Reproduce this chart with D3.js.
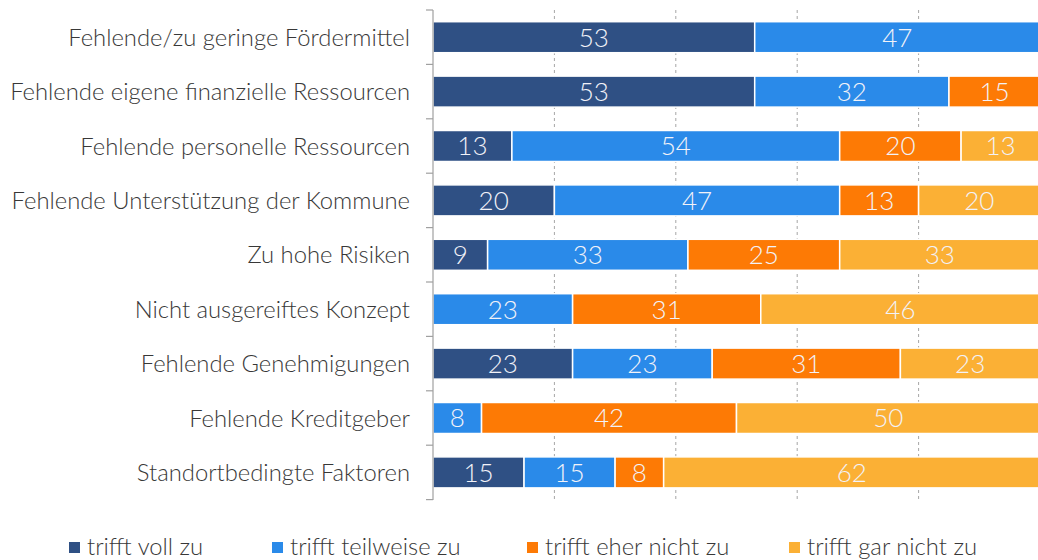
<!DOCTYPE html>
<html>
<head>
<meta charset="utf-8">
<script src="https://cdn.jsdelivr.net/npm/d3@7"></script>
<style>
  html, body { margin: 0; padding: 0; background: #fff; }
  svg { display: block; font-family: Lato, "Open Sans", sans-serif; }
</style>
</head>
<body>
<svg id="chart" width="1038" height="560"></svg>
<script>
const categories = [
  "Fehlende/zu geringe Fördermittel",
  "Fehlende eigene finanzielle Ressourcen",
  "Fehlende personelle Ressourcen",
  "Fehlende Unterstützung der Kommune",
  "Zu hohe Risiken",
  "Nicht ausgereiftes Konzept",
  "Fehlende Genehmigungen",
  "Fehlende Kreditgeber",
  "Standortbedingte Faktoren"
];
const seriesNames = ["trifft voll zu", "trifft teilweise zu", "trifft eher nicht zu", "trifft gar nicht zu"];
const triffVoll      = [53, 53, 13, 20,  9,  0, 23,  0, 15];
const triffTeilweise = [47, 32, 54, 47, 33, 23, 23,  8, 15];
const triffEherNicht = [ 0, 15, 20, 13, 25, 31, 31, 42,  8];
const triffGarNicht  = [ 0,  0, 13, 20, 33, 46, 23, 50, 62];
const colors = ["#2f5084", "#2a8ae9", "#fd7a05", "#fbb035"];
const gridTicks = [20, 40, 60, 80];

const seriesValues = [triffVoll, triffTeilweise, triffEherNicht, triffGarNicht];
const rows = categories.map((c, i) => {
  const r = { category: c };
  seriesNames.forEach((s, k) => { r[s] = seriesValues[k][i]; });
  return r;
});

const svg = d3.select("#chart");
const x = d3.scaleLinear().domain([0, 100]).range([433, 1040]);
const y = d3.scaleBand().domain(categories).range([10, 499.6]).paddingInner(0.43).paddingOuter(0.215);

// dashed vertical gridlines
svg.append("g").selectAll("line").data(gridTicks).join("line")
  .attr("x1", d => x(d)).attr("x2", d => x(d))
  .attr("y1", 10).attr("y2", 500)
  .attr("stroke", "#a6a6a6").attr("stroke-width", 1)
  .attr("stroke-dasharray", "3,3");

const stack = d3.stack().keys(seriesNames)(rows);

const layers = svg.append("g").selectAll("g").data(stack).join("g")
  .attr("fill", (d, i) => colors[i]);

layers.selectAll("rect").data(d => d.filter(p => p[1] - p[0] > 0)).join("rect")
  .attr("x", d => x(d[0]))
  .attr("y", d => y(d.data.category))
  .attr("width", d => x(d[1]) - x(d[0]))
  .attr("height", y.bandwidth())
  .attr("stroke", "#fff").attr("stroke-width", 1.5);

layers.selectAll("text").data(d => d.filter(p => p[1] - p[0] > 0)).join("text")
  .attr("x", d => (x(d[0]) + x(Math.min(d[1], 100))) / 2)
  .attr("y", d => y(d.data.category) + y.bandwidth() / 2)
  .attr("dy", "0.36em")
  .attr("text-anchor", "middle")
  .attr("fill", "#f2f2f8")
  .attr("font-size", 26)
  .attr("font-weight", 300)
  .text(d => d[1] - d[0]);

// category axis
const axis = svg.append("g");
axis.append("line")
  .attr("x1", 433).attr("x2", 433).attr("y1", 10).attr("y2", 500)
  .attr("stroke", "#a0a0a0").attr("stroke-width", 1.2);
const bounds = d3.range(categories.length + 1).map(i => 10 + i * y.step());
axis.selectAll("line.tick").data(bounds).join("line")
  .attr("class", "tick")
  .attr("x1", 426).attr("x2", 433)
  .attr("y1", d => d).attr("y2", d => d)
  .attr("stroke", "#a0a0a0").attr("stroke-width", 1.2);
axis.selectAll("text").data(categories).join("text")
  .attr("x", 410)
  .attr("y", d => y(d) + y.bandwidth() / 2)
  .attr("dy", "0.36em")
  .attr("text-anchor", "end")
  .attr("fill", "#383838")
  .attr("font-size", 23.8)
  .attr("font-weight", 300)
  .text(d => d);

// legend
const legendX = [69, 272, 527, 789];
const legend = svg.append("g").selectAll("g").data(seriesNames).join("g")
  .attr("transform", (d, i) => `translate(${legendX[i]},0)`);
legend.append("rect")
  .attr("x", 0).attr("y", 542).attr("width", 11).attr("height", 11)
  .attr("fill", (d, i) => colors[i]);
legend.append("text")
  .attr("x", 18).attr("y", 554.5)
  .attr("fill", "#383838")
  .attr("font-size", 23.8)
  .attr("font-weight", 300)
  .text(d => d);
</script>
</body>
</html>
